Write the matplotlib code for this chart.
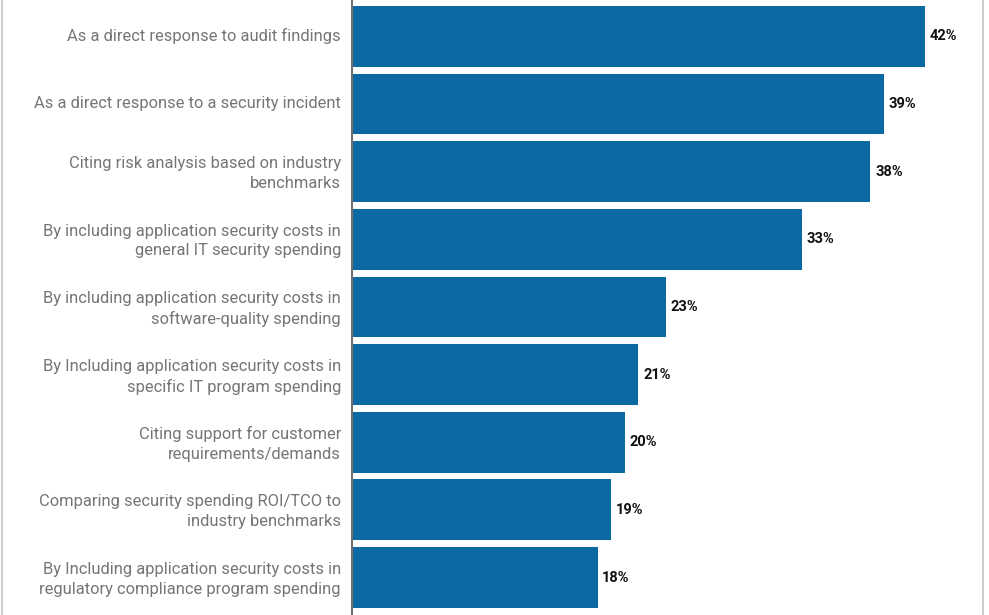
import matplotlib.pyplot as plt
from matplotlib.lines import Line2D
from matplotlib.transforms import ScaledTranslation

plt.rcParams['font.family'] = ['Roboto', 'DejaVu Sans']

categories = [
    "As a direct response to audit findings",
    "As a direct response to a security incident",
    "Citing risk analysis based on industry\nbenchmarks",
    "By including application security costs in\ngeneral IT security spending",
    "By including application security costs in\nsoftware-quality spending",
    "By Including application security costs in\nspecific IT program spending",
    "Citing support for customer\nrequirements/demands",
    "Comparing security spending ROI/TCO to\nindustry benchmarks",
    "By Including application security costs in\nregulatory compliance program spending",
]
values = [42, 39, 38, 33, 23, 21, 20, 19, 18]

bar_color = '#0b69a3'
label_color = '#757575'

fig = plt.figure(figsize=(9.89, 6.15), dpi=100)
ax = fig.add_axes([352 / 989, 0, 630 / 989, 1])

pos = list(range(len(values)))
ax.barh(pos, values, height=0.9, color=bar_color)
for y, v in zip(pos, values):
    ax.text(v + 0.35, y, f"{v}%", va='center', ha='left',
            fontsize=10.5, fontweight='bold', color='#111111')

ax.set_xlim(0, 630 / 13.64)
ax.set_ylim(8.553, -0.538)
ax.set_yticks(pos)
ax.set_yticklabels(categories, fontsize=11.9, color=label_color,
                   linespacing=1.38)
ax.tick_params(axis='y', length=0, pad=8)
ax.set_xticks([])

# nudge the category labels up a little
shift = ScaledTranslation(0, 2 / 100, fig.dpi_scale_trans)
for lbl in ax.get_yticklabels():
    lbl.set_transform(lbl.get_transform() + shift)

for side in ('top', 'right', 'bottom'):
    ax.spines[side].set_visible(False)
ax.spines['left'].set_color('#707070')
ax.spines['left'].set_linewidth(1.5)

# thin frame edges at both sides of the canvas
for x in (1.5 / 989, 982.5 / 989):
    fig.add_artist(Line2D([x, x], [0, 1], transform=fig.transFigure,
                          color='#c4c4c4', lw=1.2))

fig.savefig('out.png', dpi=100)
